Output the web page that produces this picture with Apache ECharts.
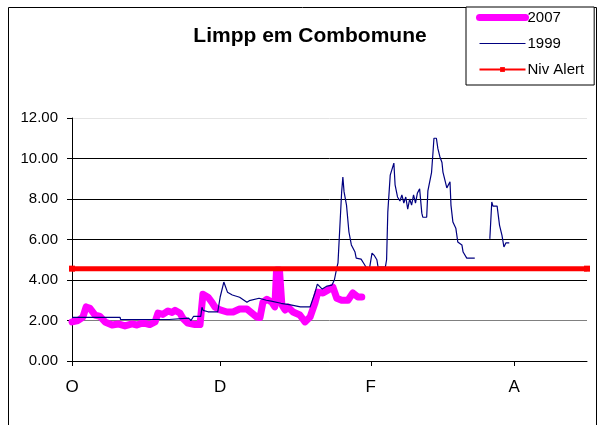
<!DOCTYPE html>
<html>
<head>
<meta charset="utf-8">
<script src="https://cdn.jsdelivr.net/npm/echarts@6/dist/echarts.min.js"></script>
<style>
  html, body { margin: 0; padding: 0; background: #fff; }
  #chart { width: 599px; height: 425px; }
</style>
</head>
<body>
<div id="chart"></div>
<script>
// x = days since 1 Oct
const monthDays = [0, 61, 123, 182]
const monthLabels = ['O', 'D', 'F', 'A']
const yTicks = [0, 2, 4, 6, 8, 10, 12]

const days2007 = [0, 2.5, 4.5, 5.8, 7.4, 9.5, 11.5, 13.6, 16.5, 19, 21.8, 24.7, 26.7, 29.2, 32, 34.2,
  35.4, 37.4, 39.5, 41.2, 42.4, 44.4, 45.7, 47.7, 50.6, 52.7, 53.9, 56, 57.6, 58.8, 61, 63.8,
  66.3, 69, 72, 74, 76, 77.4, 78.6, 80.2, 82.3, 83.5, 84.2, 85.4, 86.4, 87.7, 88.9, 91, 93.8,
  95.9, 98, 100, 101.2, 103.3, 105.3, 107.4, 109, 111, 113.6, 115.6, 117.7, 119.3]
const vals2007 = [1.93, 2.0, 2.17, 2.67, 2.6, 2.27, 2.2, 1.93, 1.78, 1.83, 1.73, 1.83, 1.78, 1.88, 1.8, 1.93,
  2.37, 2.3, 2.47, 2.4, 2.5, 2.37, 2.1, 1.87, 1.8, 1.8, 3.3, 3.15, 2.9, 2.67, 2.52, 2.42,
  2.42, 2.57, 2.57, 2.37, 2.17, 2.15, 2.9, 3.05, 2.9, 2.67, 4.5, 4.5, 2.77, 2.52, 2.67, 2.42, 2.27,
  1.93, 2.17, 2.86, 3.4, 3.36, 3.5, 3.65, 3.1, 3.0, 3.0, 3.36, 3.16, 3.16]

const days1999 = [0, 19.8, 20, 40, 40.4, 48, 49, 50, 53, 53.5, 54, 56, 60, 61, 62.5, 64, 66, 69, 72, 73,
  77, 80, 82, 86, 90, 94, 98, 100, 101, 103, 105, 107, 108, 109, 109.5, 111, 111.5, 112, 113, 114,
  115, 116.5, 117, 119, 120, 121, 122.5, 123.5, 124.5, 125.5, 126, 129, 129.5, 130, 131, 132.5, 133,
  134, 135, 135.8, 136.6, 137.4, 138.2, 139, 139.8, 140.6, 141.4, 142.2, 143.1, 144, 144.4, 146,
  146.5, 148, 148.6, 149, 150, 150.6, 151.4, 152.3, 152.7, 154.3, 155.6, 156, 156.8, 158, 158.8,
  160.5, 161, 162.5, 165.8, 169, 172, 172.8, 173.3, 175, 176, 177, 177.8, 178.6, 180]
const vals1999 = [2.15, 2.15, 2.05, 2.05, 2.12, 2.12, 2.0, 2.2, 2.2, 2.65, 2.5, 2.43, 2.43, 3.16, 3.9, 3.4, 3.26, 3.15, 2.9, 2.98,
  3.1, 3.0, 2.96, 2.85, 2.77, 2.67, 2.67, 3.36, 3.8, 3.55, 3.7, 3.75, 4.0, 4.6, 4.85, 8.35, 9.08, 8.35, 7.7, 6.37,
  5.73, 5.38, 5.08, 5.03, 4.84, 4.64, 4.6, 5.33, 5.2, 5.0, 4.64, 4.64, 5.0, 7.35, 9.18, 9.77, 8.7,
  8.1, 7.9, 8.2, 7.8, 8.1, 7.5, 8.0, 7.7, 8.2, 7.8, 8.3, 8.5, 7.3, 7.1, 7.1,
  8.4, 9.3, 10.3, 11.0, 11.0, 10.5, 10.1, 9.8, 9.33, 8.55, 8.85, 7.7, 6.86, 6.56, 5.88,
  5.73, 5.38, 5.08, 5.08, null, 6.03, 7.85, 7.65, 7.65, 6.7, 6.2, 5.63, 5.83, 5.83]

const daysAlert = [0, 212]
const valsAlert = [4.56, 4.56]

const pairs = (xs, ys) => xs.map((x, i) => [x, ys[i]])

const chart = echarts.init(document.getElementById('chart'))
chart.setOption({
  animation: false,
  textStyle: { fontFamily: 'Liberation Sans, Arial, sans-serif', color: '#000' },
  title: {
    text: 'Limpp em Combomune',
    left: 305,
    textAlign: 'center',
    top: 21,
    textStyle: { fontSize: 21, fontWeight: 'bold', color: '#000' },
  },
  legend: {
    orient: 'vertical',
    left: 466,
    top: 7,
    padding: [3, 10, 8, 10],
    itemWidth: 46,
    itemHeight: 6,
    itemGap: 11,
    backgroundColor: '#fff',
    borderColor: '#000',
    borderWidth: 1,
    borderRadius: 0,
    textStyle: { fontSize: 15, lineHeight: 14, color: '#000', padding: [0, 0, 0, -3] },
    data: [
      { name: '2007', lineStyle: { width: 7, cap: 'round' }, itemStyle: { opacity: 0 } },
      { name: '1999', lineStyle: { width: 1 }, itemStyle: { opacity: 0 } },
      { name: 'Niv Alert', lineStyle: { width: 2 } },
    ],
  },
  grid: { left: 72, right: 12, top: 118, bottom: 64 },
  xAxis: {
    type: 'value',
    min: 0,
    max: 212,
    axisLine: { onZero: false, lineStyle: { color: '#000', width: 1 } },
    axisTick: { show: true, length: 5, customValues: monthDays, lineStyle: { color: '#000' } },
    axisLabel: {
      customValues: monthDays,
      formatter: (v) => monthLabels[monthDays.indexOf(v)] || '',
      fontSize: 17,
      color: '#000',
      margin: 18,
    },
    splitLine: { show: false },
  },
  yAxis: {
    type: 'value',
    min: yTicks[0],
    max: yTicks[yTicks.length - 1],
    interval: 2,
    axisLine: { show: true, lineStyle: { color: '#000', width: 1 } },
    axisTick: { show: true, length: 5, lineStyle: { color: '#000' } },
    axisLabel: {
      formatter: (v) => v.toFixed(2),
      fontSize: 15,
      color: '#000',
      margin: 14,
    },
    splitLine: {
      lineStyle: {
        color: ['#000', '#808080', '#000', '#000', '#000', '#000', '#e4e4e4'],
        width: 1,
      },
    },
  },
  series: [
    {
      name: '2007',
      type: 'line',
      data: pairs(days2007, vals2007),
      symbol: 'none',
      color: '#ff00ff',
      lineStyle: { color: '#ff00ff', width: 7, join: 'round', cap: 'round' },
    },
    {
      name: '1999',
      type: 'line',
      data: pairs(days1999, vals1999),
      symbol: 'none',
      color: '#000080',
      connectNulls: false,
      lineStyle: { color: '#000080', width: 1.2 },
    },
    {
      name: 'Niv Alert',
      type: 'line',
      data: pairs(daysAlert, valsAlert),
      symbol: 'rect',
      symbolSize: 6,
      color: '#ff0000',
      itemStyle: { color: '#ff0000' },
      lineStyle: { color: '#ff0000', width: 5 },
    },
  ],
  graphic: [
    {
      type: 'rect',
      silent: true,
      z: -10,
      shape: { x: 8.5, y: 7.5, width: 588, height: 440 },
      style: { fill: 'none', stroke: '#000', lineWidth: 1 },
    },
  ],
})
</script>
</body>
</html>
